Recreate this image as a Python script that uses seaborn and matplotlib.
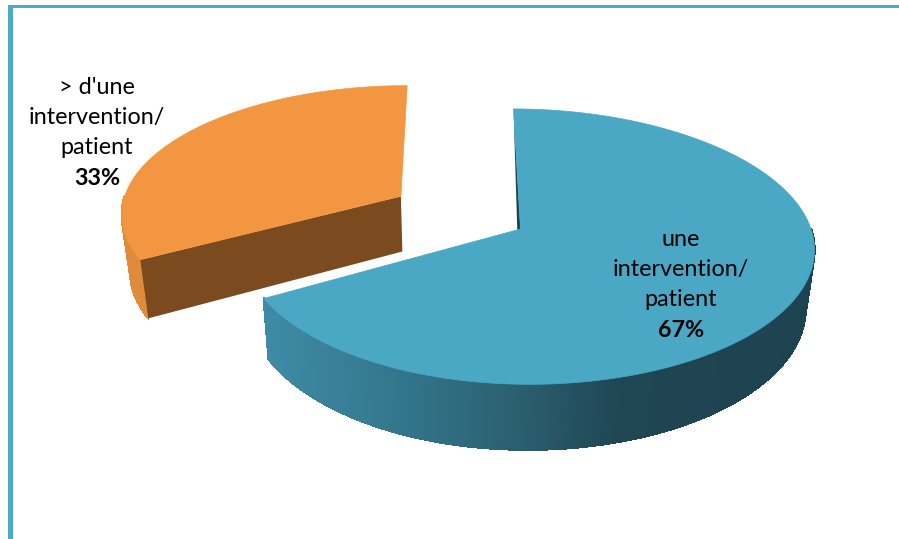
import numpy as np
import matplotlib
matplotlib.use("Agg")
import matplotlib.pyplot as plt
from matplotlib.collections import PolyCollection
from matplotlib.colors import to_rgb
import seaborn as sns

# ---- data ----
categories = ["une\nintervention/\npatient", "> d'une\nintervention/\npatient"]
values = [67, 33]
percent_labels = ["67%", "33%"]

sns.set_theme(style="white")
plt.rcParams["font.family"] = ["Lato", "DejaVu Sans"]

top_colors = sns.color_palette(["#4BA8C5", "#F39642"])
cut_colors = ["#1E4552", "#7B4A1E"]
blue_ramp_x = [260, 400, 530, 620, 815]
blue_ramp = ["#3F8BA6", "#33768B", "#2A5C6D", "#1F4653", "#1E4350"]
orange_wall = "#E08A3C"

# ---- perspective pie geometry (screen pixels) ----
VX, VY = 459.0, -829.0      # vanishing point of the pie plane
CX, CY = 520.5, 229.0       # pie centre on screen
K = 0.128                   # perspective strength
HEIGHT = 57.0               # extrusion
CONVERGE = 0.025            # side lines lean toward the picture centre
EXPLODE = 0.49
WIDTHS = [284.5, 285.0]
WIDTH_SKEW = [6.0, 0.0]
DEPTHS = [1.0, 0.975]
WALL_LIMIT = 0.0            # outer wall is only seen on the viewer's side


def project(x, y, width, skew, ox, oy):
    x = np.asarray(x, float)
    y = np.asarray(y, float)
    scale = width + skew * x
    w = 1 + K * (y + oy)
    sx = VX + ((CX - VX) + 288.0 * ox + scale * x) / w
    sy = VY + (CY - VY) / w
    return sx, sy, w


def lower(sx, sy, w):
    return sx - (sx - 460.0) * CONVERGE, sy + HEIGHT / w


fig = plt.figure(figsize=(8.99, 5.39), dpi=100, facecolor="white")
ax = fig.add_axes([0, 0, 1, 1])
ax.set_xlim(0, 899)
ax.set_ylim(539, 0)
ax.axis("off")

# frame
ax.fill_between([8, 899], 5, 8, color="#4BACC6", lw=0)
ax.fill_between([8, 13], 5, 539, color="#4BACC6", lw=0)

fractions = np.array(values, float) / sum(values)
edges = np.concatenate([[0], np.cumsum(fractions)]) * 2 * np.pi
ramp_rgb = np.array([to_rgb(c) for c in blue_ramp])

for i in [1, 0]:
    a0, a1 = edges[i], edges[i + 1]
    mid = (a0 + a1) / 2
    ox = EXPLODE * np.sin(mid) if i == 1 else 0.0
    oy = EXPLODE * np.cos(mid) if i == 1 else 0.0
    th = np.linspace(a0, a1, 480)
    cx_, cy_ = np.sin(th), np.cos(th) * DEPTHS[i]
    sx, sy, w = project(cx_, cy_, WIDTHS[i], WIDTH_SKEW[i], ox, oy)
    bx, by = lower(sx, sy, w)

    # outer wall
    polys, cols = [], []
    for j in range(len(th) - 1):
        if cy_[j] > WALL_LIMIT:
            continue
        polys.append([(sx[j], sy[j]), (sx[j + 1], sy[j + 1]),
                      (bx[j + 1], by[j + 1]), (bx[j], by[j])])
        xm = (sx[j] + sx[j + 1]) / 2
        if i == 0:
            cols.append([np.interp(xm, blue_ramp_x, ramp_rgb[:, k]) for k in range(3)])
        else:
            cols.append(to_rgb(orange_wall))
    ax.add_collection(PolyCollection(polys, facecolors=cols, edgecolors=cols,
                                     linewidths=1.0, antialiaseds=False,
                                     zorder=2 + (1 - i)))

    # centre point on both faces
    c_sx, c_sy, c_w = project(0.0, 0.0, WIDTHS[i], WIDTH_SKEW[i], ox, oy)
    c_bx, c_by = lower(c_sx, c_sy, c_w)

    # cut wall that faces the viewer (start edge of each slice)
    if i == 0:
        ax.fill([c_sx, sx[0], c_bx], [c_sy, sy[0], c_by],
                color=cut_colors[i], lw=0, zorder=2.5 + (1 - i))
    else:
        ax.fill([c_sx, sx[0], bx[0], c_bx], [c_sy, sy[0], by[0], c_by],
                color=cut_colors[i], lw=0, zorder=2.5 + (1 - i))

    # top face
    ax.fill(np.r_[c_sx, sx], np.r_[c_sy, sy], color=top_colors[i], lw=0.5,
            zorder=3 + (1 - i))

# labels
text_pos = [(681, 239), (97, 87)]
LINE = 30.5
for name, pct, (tx, ty) in zip(categories, percent_labels, text_pos):
    lines = name.split("\n")
    for n, line in enumerate(lines):
        ax.text(tx, ty + n * LINE, line, ha="center", va="center",
                fontsize=16.8, color="black", zorder=10)
    ax.text(tx, ty + len(lines) * LINE, pct, ha="center", va="center",
            fontsize=16.8, fontweight="bold", color="black", zorder=10)

fig.savefig("out.png", dpi=100, facecolor="white")
